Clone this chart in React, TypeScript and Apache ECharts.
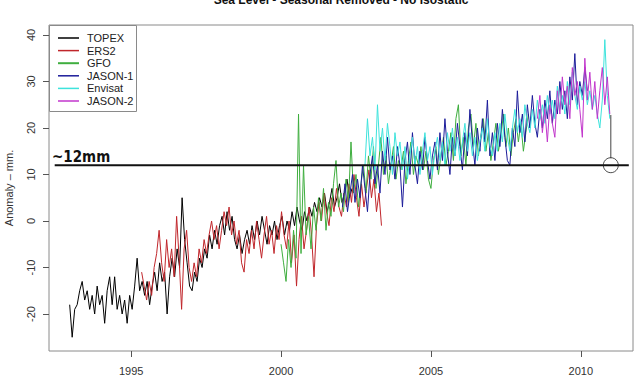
import React, { useEffect, useRef } from "react";
import * as echarts from "echarts";

const STEP = 1 / 12;

const TOPEX_START = 1992.95;
const TOPEX = [
  -18, -25, -19, -18, -15, -13, -17, -15, -19, -16, -20, -14,
  -18, -16, -22, -15, -12, -18, -12, -19, -16, -20, -17, -22,
  -16, -19, -14, -8, -15, -13, -16, -13, -18, -14, -11, -15,
  -9, -13, -11, -20, -12, -8, -12, -6, -10, 5, -4, -9,
  -14, -15, -11, -13, -8, -10, -6, -8, -3, -6, -2, -5,
  -1, 1, -3, 2, -2, 1, -4, -6, -3, -7, -4, -2,
  -5, -1, -4, 0, -3, 1, -2, -5, -1, -3, 0, -4,
  -1, 1, -3, 0, -2, 2, -1, 3, 0, -2, 2, 0,
  3, 1, 4, 2, 5, 3, 6, 2, 4, 7, 3, 5,
  8, 4, 6, 9, 5, 7,
];

const ERS2_START = 1995.35;
const ERS2 = [
  -11, -14, -17, -13, -16, -10, -7, -2, -9, -13, -4, -10,
  -6, -12, 1, -8, -19, -6, -2, -10, -13, -9, -12, -6,
  -9, -4, -7, -3, 0, -4, -1, -6, -2, 2, -1, 3,
  -3, 0, -5, -2, -9, -11, -4, -7, -2, -6, 0, -4,
  -8, -3, 1, -5, -2, -7, -1, -4, 2, -3, -6, 0,
  -9, -3, -14, -4, 1, -6, -2, 3, -3, -12, -1, 4,
  0, 6, 2, -1, 5, 2, 7, 3, 1, 6, 3, 8,
  4, 10, 5, 1, 8, 3, 7, 11, 5, 9, 2, 6,
  -1,
];

const GFO_START = 2000.0;
const GFO = [
  -5, -9, -13, -4, -10, -2, -8, 23, -7, 12, -3, 1,
  -6, 3, -2, 5, 0, 7, -2, 4, 1, 8, 13, 3,
  6, 2, 9, 4, 17, 6, 10, 3, 8, 12, 6, 14,
  9, 16, 7, 12, 18, 10, 14, 8, 12, 16, 9, 13,
  11, 15, 8, 13, 17, 10, 14, 12, 16, 11, 15, 9,
  7, 13, 16, 10, 14, 18, 12, 15, 19, 13, 22, 25,
  14, 18, 12, 20, 23, 16, 21, 14, 18, 22, 15, 19,
  13, 17, 21, 15, 18, 23, 16, 20, 14, 19, 22, 17,
  21, 15, 19, 23,
];

const JASON1_START = 2002.05;
const JASON1 = [
  3, 8, 2, 6, 10, 4, 9, 5, 12, 7, 2, 10,
  14, 8, 12, 6, 15, 10, 18, 11, 14, 9, 16, 12,
  3, 13, 17, 10, 19, 12, 8, 15, 11, 18, 13, 9,
  14, 17, 11, 19, 13, 22, 15, 10, 18, 14, 21, 16,
  11, 19, 14, 24, 17, 12, 20, 15, 22, 17, 26, 14,
  19, 13, 21, 16, 24, 18, 13, 12, 20, 16, 28, 19,
  23, 17, 25, 20, 27, 21, 18, 24, 20, 26, 22, 28,
  21, 26, 23, 30, 24, 28, 22, 31, 26, 36, 25, 30,
  27, 33, 28,
];

const ENVISAT_START = 2002.8;
const ENVISAT = [
  12, 22, 14, 18, 11, 25, 15, 20, 13, 21, 16, 10,
  19, 14, 17, 11, 16, 9, 14, 18, 12, 16, 10, 15,
  19, 13, 16, 10, 15, 18, 13, 17, 12, 19, 15, 20,
  14, 18, 13, 17, 21, 15, 19, 14, 18, 13, 17, 20,
  15, 22, 16, 14, 19, 15, 21, 17, 23, 18, 15, 20,
  24, 19, 22, 18, 25, 21, 19, 24, 20, 26, 22, 25,
  21, 27, 23, 26, 22, 29, 24, 27, 23, 30, 25, 32,
  27, 24, 29, 26, 30, 25, 28, 24, 27, 23, 20, 26,
  39, 27, 22,
];

const JASON2_START = 2008.55;
const JASON2 = [
  22, 27, 19, 24, 17, 25, 21, 18, 28, 23, 31, 25,
  29, 22, 33, 27, 30, 24, 18, 35, 26, 32, 24, 30,
  22, 28, 33, 25, 31, 23,
];

const SERIES_NAMES = ["TOPEX", "ERS2", "GFO", "JASON-1", "Envisat", "JASON-2"];
const SERIES_COLORS = ["#000000", "#c0262b", "#3fae3f", "#1c1c9a", "#3ee3dc", "#c236cc"];
const SERIES_STARTS = [TOPEX_START, ERS2_START, GFO_START, JASON1_START, ENVISAT_START, JASON2_START];
const SERIES_VALUES = [TOPEX, ERS2, GFO, JASON1, ENVISAT, JASON2];

const X_TICKS = [1995, 2000, 2005, 2010];
const Y_TICKS = [-20, -10, 0, 10, 20, 30, 40];

const LEVEL = 12;
const LEVEL_LINE_X = [1992.45, 2011.6];
const END_X = 2011.0;
const END_VALUE = 22.8;
const CIRCLE_TOP = 13.5;

const toPairs = (start: number, vals: number[]) => vals.map((v, i) => [start + i * STEP, v]);

export default function App() {
  const ref = useRef<HTMLDivElement>(null);

  useEffect(() => {
    if (!ref.current) return;
    const chart = echarts.init(ref.current, undefined, { renderer: "svg" });
    const font = "'Liberation Sans', Arial, sans-serif";

    const lineSeries = SERIES_NAMES.map((name, k) => ({
      name,
      type: "line",
      data: toPairs(SERIES_STARTS[k], SERIES_VALUES[k]),
      showSymbol: false,
      symbol: "none",
      silent: true,
      lineStyle: { color: SERIES_COLORS[k], width: 1 },
      itemStyle: { color: SERIES_COLORS[k] },
      z: 2 + k,
    }));

    const legendItems: any[] = [];
    SERIES_NAMES.forEach((name, k) => {
      const y = 38 + k * 12.6;
      legendItems.push({
        type: "line",
        shape: { x1: 58, y1: y, x2: 79, y2: y },
        style: { stroke: SERIES_COLORS[k], lineWidth: k === 2 ? 2 : 1.5 },
        z: 101,
      });
      legendItems.push({
        type: "text",
        x: 87,
        y,
        style: {
          text: name,
          fill: "#222",
          font: `11px ${font}`,
          textAlign: "left",
          textVerticalAlign: "middle",
        },
        z: 101,
      });
    });

    chart.setOption({
      animation: false,
      backgroundColor: "#ffffff",
      grid: {
        left: 49,
        top: 25,
        width: 584,
        height: 326,
        show: true,
        borderColor: "#8a8a8a",
        borderWidth: 1,
        backgroundColor: "transparent",
      },
      xAxis: {
        type: "value",
        min: 1992.26,
        max: 2011.74,
        axisLine: { show: false, onZero: false },
        splitLine: { show: false },
        axisTick: {
          show: true,
          length: 6,
          customValues: X_TICKS,
          lineStyle: { color: "#555" },
        },
        axisLabel: {
          customValues: X_TICKS,
          margin: 14,
          color: "#333",
          fontSize: 11,
          fontFamily: font,
          formatter: (v: number) => String(Math.round(v)),
        },
      },
      yAxis: {
        type: "value",
        min: -27.96,
        max: 42.15,
        axisLine: { show: false, onZero: false },
        splitLine: { show: false },
        axisTick: {
          show: true,
          length: 6,
          customValues: Y_TICKS,
          lineStyle: { color: "#555" },
        },
        axisLabel: {
          customValues: Y_TICKS,
          rotate: 90,
          margin: 13,
          color: "#333",
          fontSize: 11,
          fontFamily: font,
          formatter: (v: number) => String(Math.round(v)),
        },
      },
      series: [
        ...lineSeries,
        {
          type: "line",
          data: LEVEL_LINE_X.map((x) => [x, LEVEL]),
          showSymbol: false,
          symbol: "none",
          silent: true,
          lineStyle: { color: "#111", width: 2 },
          z: 20,
        },
        {
          type: "line",
          data: [
            [END_X, END_VALUE],
            [END_X, CIRCLE_TOP],
          ],
          showSymbol: false,
          symbol: "none",
          silent: true,
          lineStyle: { color: "#444", width: 1 },
          z: 20,
        },
        {
          type: "scatter",
          data: [[END_X, LEVEL]],
          symbol: "circle",
          symbolSize: 15,
          silent: true,
          itemStyle: { color: "rgba(0,0,0,0)", borderColor: "#222", borderWidth: 1 },
          z: 21,
        },
      ],
      graphic: [
        {
          type: "text",
          x: 341,
          y: 0,
          style: {
            text: "Sea Level - Seasonal Removed - No Isostatic",
            fill: "#111",
            font: `bold 12px ${font}`,
            textAlign: "center",
            textVerticalAlign: "middle",
          },
        },
        {
          type: "text",
          x: 9,
          y: 188,
          rotation: Math.PI / 2,
          style: {
            text: "Anomaly \u2013 mm.",
            fill: "#333",
            font: `11px ${font}`,
            textAlign: "center",
            textVerticalAlign: "middle",
          },
        },
        {
          type: "text",
          x: 52,
          y: 157,
          style: {
            text: "~12mm",
            fill: "#111",
            font: `bold 15px 'DejaVu Sans Condensed', 'DejaVu Sans', sans-serif`,
            textAlign: "left",
            textVerticalAlign: "middle",
          },
          z: 30,
        },
        {
          type: "rect",
          shape: { x: 49.5, y: 25.5, width: 87, height: 86 },
          style: { fill: "#fff", stroke: "#8a8a8a", lineWidth: 1 },
          z: 100,
        },
        ...legendItems,
      ],
    });

    return () => chart.dispose();
  }, []);

  return (
    <div
      ref={ref}
      style={{ position: "absolute", left: 0, top: 0, width: 640, height: 381, background: "#fff" }}
    />
  );
}
